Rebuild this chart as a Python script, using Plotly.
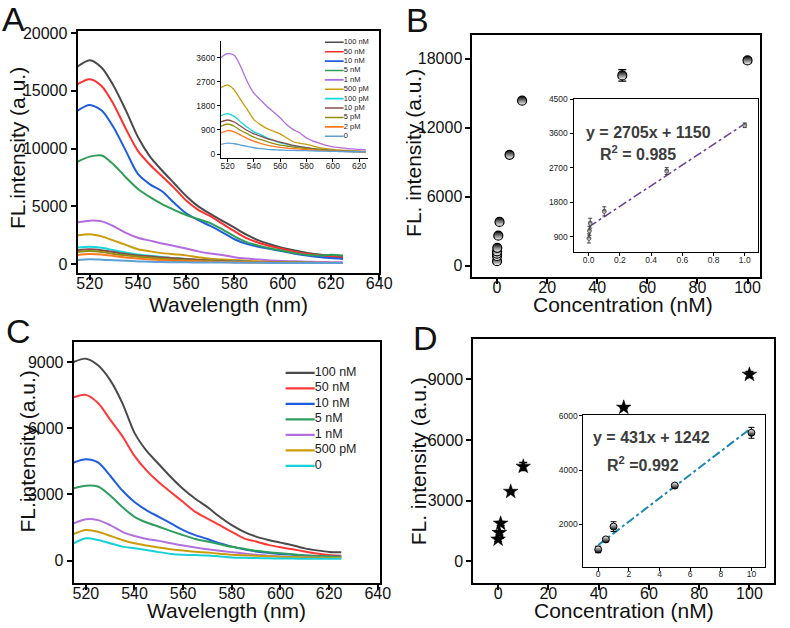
import plotly.graph_objects as go

W, H = 790, 628
FONT = "Arial, Liberation Sans, Helvetica, sans-serif"


def fx(p):
    return p / W


def fy(p):
    return 1 - p / H


# ---------------- data ----------------
WAVELENGTH = [515, 520, 525, 530, 535, 540, 545, 550, 555, 560, 565, 570,
              575, 580, 585, 590, 595, 600, 605, 610, 615, 620, 625]

# Panel A spectra
A_LABELS = ["100 nM", "50 nM", "10 nM", "5 nM", "1 nM", "500 pM",
            "100 pM", "10 pM", "5 pM", "2 pM", "0"]
A_COLORS = ["#4a4a4a", "#ff3030", "#1f5de0", "#2e9e55", "#b46be0", "#cc9b0a",
            "#12d8e0", "#8c4b4b", "#8f8f10", "#ff7a22", "#5e9fd6"]
A_100NM = [17100, 17650, 17000, 15400, 13300, 11000, 9300, 8100, 7000, 5900, 5000, 4350,
           3750, 3150, 2550, 2050, 1700, 1400, 1180, 970, 830, 710, 600]
A_50NM = [15570, 16000, 15400, 13800, 11700, 9800, 8600, 7600, 6600, 5500, 4700, 4150,
          3500, 2850, 2250, 1850, 1550, 1300, 1080, 900, 770, 650, 550]
A_10NM = [13290, 13770, 13300, 11800, 9800, 7800, 6900, 6300, 5300, 4400, 3800, 3300,
          2750, 2150, 1750, 1500, 1300, 1100, 900, 750, 620, 520, 450]
A_5NM = [8860, 9300, 9400, 8600, 7500, 6500, 5800, 5200, 4700, 4250, 3900, 3550,
         3000, 2400, 1900, 1600, 1350, 1150, 950, 800, 750, 800, 750]
A_1NM = [3620, 3760, 3700, 3270, 2710, 2280, 2030, 1780, 1570, 1350, 1100, 915,
         790, 600, 480, 400, 320, 270, 240, 210, 190, 170, 160]
A_500PM = [2490, 2590, 2400, 2030, 1660, 1290, 1100, 950, 850, 755, 600, 460,
           400, 360, 300, 235, 200, 175, 150, 135, 120, 110, 100]
A_100PM = [1435, 1510, 1410, 1200, 1000, 830, 730, 605, 510, 420, 360, 300,
           270, 235, 200, 175, 150, 135, 120, 110, 95, 85, 85]
A_10PM = [1200, 1275, 1200, 1040, 880, 755, 670, 580, 510, 445, 385, 320,
          280, 235, 200, 175, 150, 135, 120, 110, 100, 100, 85]
A_5PM = [1040, 1125, 1040, 880, 755, 630, 545, 460, 385, 335, 300, 260,
         230, 200, 180, 160, 145, 135, 120, 110, 95, 85, 85]
A_2PM = [790, 880, 830, 705, 580, 480, 400, 335, 285, 250, 225, 200,
         180, 160, 145, 135, 120, 110, 105, 100, 90, 85, 85]
A_0 = [360, 410, 385, 335, 285, 235, 200, 175, 160, 150, 140, 135,
       130, 125, 115, 110, 105, 100, 95, 85, 85, 85, 85]
A_SERIES = [A_100NM, A_50NM, A_10NM, A_5NM, A_1NM, A_500PM,
            A_100PM, A_10PM, A_5PM, A_2PM, A_0]
A_INSET_LABELS = ["1 nM", "500 pM", "100 pM", "10 pM", "5 pM", "2 pM", "0"]

# Panel C spectra
C_LABELS = ["100 nM", "50 nM", "10 nM", "5 nM", "1 nM", "500 pM", "0"]
C_COLORS = ["#4a4a4a", "#ff3838", "#1f5de0", "#2e9e5e", "#b070e0", "#cc9b0a", "#17d0d8"]
C_100NM = [9000, 9150, 8850, 8180, 7140, 5790, 4970, 4370, 3780, 3250, 2810, 2430,
           1990, 1610, 1310, 1090, 940, 820, 700, 560, 470, 400, 380]
C_50NM = [7400, 7510, 7140, 6390, 5640, 4750, 4080, 3550, 3100, 2660, 2210, 1910,
          1610, 1310, 1015, 870, 720, 610, 520, 420, 330, 260, 230]
C_10NM = [4450, 4600, 4450, 3850, 3180, 2660, 2280, 1990, 1690, 1390, 1160, 985,
          790, 640, 520, 420, 360, 300, 270, 240, 215, 195, 190]
C_5NM = [3280, 3400, 3360, 2950, 2430, 1990, 1730, 1540, 1340, 1160, 985, 870,
         750, 630, 540, 450, 390, 340, 290, 240, 210, 195, 180]
C_1NM = [1690, 1880, 1840, 1610, 1310, 1120, 985, 900, 790, 690, 600, 520,
         450, 390, 330, 270, 230, 195, 170, 150, 135, 120, 120]
C_500PM = [1210, 1390, 1310, 1130, 940, 790, 690, 600, 520, 460, 410, 370,
           320, 270, 245, 225, 200, 180, 165, 150, 140, 135, 135]
C_0 = [790, 1015, 940, 790, 640, 570, 490, 390, 310, 270, 255, 240,
       195, 150, 135, 120, 110, 105, 100, 90, 90, 90, 90]
C_SERIES = [C_100NM, C_50NM, C_10NM, C_5NM, C_1NM, C_500PM, C_0]

# Panel B calibration
B_CONC = [0, 0.002, 0.005, 0.01, 0.1, 0.5, 1, 5, 10, 50, 100]
B_INTENSITY = [400, 850, 1050, 1250, 1560, 2615, 3815, 9650, 14350, 16550, 17850]
B_ERR = [150, 150, 150, 150, 150, 150, 150, 200, 150, 500, 200]
B_IN_CONC = [0.002, 0.005, 0.01, 0.1, 0.5, 1.0]
B_IN_INTENSITY = [850, 1050, 1250, 1560, 2615, 3815]
B_IN_ERR = [120, 120, 130, 120, 90, 60]
B_FIT_X = [0, 1.0]
B_FIT_Y = [1150, 3855]

# Panel D calibration
D_CONC = [0, 0.5, 1, 5, 10, 50, 100]
D_INTENSITY = [1095, 1420, 1880, 3455, 4695, 7615, 9245]
D_ERR = [100, 100, 100, 60, 200, 60, 150]
D_IN_CONC = [0, 0.5, 1, 5, 10]
D_IN_INTENSITY = [1080, 1450, 1920, 3430, 5370]
D_IN_ERR = [120, 60, 180, 50, 200]
D_FIT_X = [0, 10]
D_FIT_Y = [1242, 5552]

# ---------------- figure ----------------
fig = go.Figure()

# Panel A main
for lab, col, vals in zip(A_LABELS, A_COLORS, A_SERIES):
    fig.add_trace(go.Scatter(x=WAVELENGTH, y=vals, mode="lines", name=lab,
                             line=dict(color=col, width=2, shape="spline", smoothing=0.8),
                             xaxis="x", yaxis="y"))
# Panel A inset
for lab, col, vals in zip(A_LABELS, A_COLORS, A_SERIES):
    if lab in A_INSET_LABELS:
        fig.add_trace(go.Scatter(x=WAVELENGTH, y=vals, mode="lines", name=lab,
                                 line=dict(color=col, width=1.3, shape="spline", smoothing=0.8),
                                 xaxis="x2", yaxis="y2"))


def legend_rows(labels, colors, xa, ya, fsize, lw):
    """Legend drawn on a hidden axis pair: one row per series index."""
    for i, (lab, col) in enumerate(zip(labels, colors)):
        fig.add_trace(go.Scatter(x=[0, 1], y=[i, i], mode="lines",
                                 line=dict(color=col, width=lw), cliponaxis=False,
                                 xaxis=xa, yaxis=ya))
    fig.add_trace(go.Scatter(x=[1] * len(labels), y=list(range(len(labels))), mode="text",
                             text=labels, textposition="middle right",
                             textfont=dict(size=fsize, color="#222", family=FONT),
                             cliponaxis=False, xaxis=xa, yaxis=ya))


legend_rows(A_LABELS, A_COLORS, "x3", "y3", 7.5, 1.6)

# Panel B main
fig.add_trace(go.Scatter(x=B_CONC, y=B_INTENSITY, mode="markers",
                         marker=dict(symbol="circle", size=9, color="black",
                                     gradient=dict(type="vertical", color="white"),
                                     line=dict(color="black", width=1.2)),
                         error_y=dict(type="data", array=B_ERR, color="black",
                                      thickness=1.3, width=4),
                         xaxis="x4", yaxis="y4"))
# Panel B inset
fig.add_trace(go.Scatter(x=B_FIT_X, y=B_FIT_Y, mode="lines",
                         line=dict(color="#6a3d9a", width=1.5, dash="dashdot"),
                         xaxis="x5", yaxis="y5"))
fig.add_trace(go.Scatter(x=B_IN_CONC, y=B_IN_INTENSITY, mode="markers",
                         marker=dict(symbol="circle", size=4, color="#444",
                                     gradient=dict(type="vertical", color="white"),
                                     line=dict(color="#444", width=0.8)),
                         error_y=dict(type="data", array=B_IN_ERR, color="#444",
                                      thickness=1, width=2),
                         xaxis="x5", yaxis="y5"))

# Panel C main
for lab, col, vals in zip(C_LABELS, C_COLORS, C_SERIES):
    fig.add_trace(go.Scatter(x=WAVELENGTH, y=vals, mode="lines", name=lab,
                             line=dict(color=col, width=2, shape="spline", smoothing=0.8),
                             xaxis="x6", yaxis="y6"))
legend_rows(C_LABELS, C_COLORS, "x7", "y7", 12.5, 2.2)

# Panel D main
fig.add_trace(go.Scatter(x=D_CONC, y=D_INTENSITY, mode="markers",
                         marker=dict(symbol="star", size=11, color="black",
                                     line=dict(color="black", width=0.5)),
                         error_y=dict(type="data", array=D_ERR, color="black",
                                      thickness=1.3, width=4),
                         xaxis="x8", yaxis="y8"))
# Panel D inset
fig.add_trace(go.Scatter(x=D_FIT_X, y=D_FIT_Y, mode="lines",
                         line=dict(color="#1e88b4", width=2, dash="dashdot"),
                         xaxis="x9", yaxis="y9"))
fig.add_trace(go.Scatter(x=D_IN_CONC, y=D_IN_INTENSITY, mode="markers",
                         marker=dict(symbol="circle", size=7, color="white",
                                     gradient=dict(type="vertical", color="black"),
                                     line=dict(color="black", width=1)),
                         error_y=dict(type="data", array=D_IN_ERR, color="black",
                                      thickness=1, width=3),
                         xaxis="x9", yaxis="y9"))


def main_axis(dom, rng, dtick, is_x):
    d = dict(domain=dom, range=rng, showline=True, linecolor="black", linewidth=2,
             mirror=True, ticks="outside", ticklen=5, tickwidth=2, tickcolor="black",
             tickfont=dict(size=16, color="#111", family=FONT), showgrid=False,
             zeroline=False, dtick=dtick, tick0=0, tickformat="d")
    if is_x:
        d["ticklabelstandoff"] = -10
    return d


def inset_axis(dom, rng, tickvals, is_x, mirror=True, fmt="d", size=8.5):
    d = dict(domain=dom, range=rng, showline=True, linecolor="black", linewidth=1.3,
             mirror=mirror, ticks="outside", ticklen=3, tickwidth=1, tickcolor="black",
             tickvals=tickvals, tickfont=dict(size=size, color="#222", family=FONT),
             showgrid=False, zeroline=False, tickformat=fmt)
    if is_x:
        d["ticklabelstandoff"] = -4
    return d


hidden = dict(visible=False, showgrid=False, zeroline=False)

layout = dict(
    width=W, height=H, margin=dict(l=0, r=0, t=0, b=0),
    paper_bgcolor="white", plot_bgcolor="rgba(0,0,0,0)", showlegend=False,
    font=dict(family=FONT, color="#111"),
    # Panel A
    xaxis=main_axis([fx(78), fx(385)], [515, 640], 20, True),
    yaxis=main_axis([fy(270), fy(25)], [-770, 20200], 5000, False),
    xaxis2=inset_axis([fx(224), fx(374)], [515, 627], [520, 540, 560, 580, 600, 620],
                      True, mirror=False),
    yaxis2=inset_axis([fy(154), fy(35)], [-160, 4250], [0, 900, 1800, 2700, 3600],
                      False, mirror=False),
    xaxis3=dict(domain=[fx(329.5), fx(349)], range=[0, 1], anchor="y3", **hidden),
    yaxis3=dict(domain=[fy(136.45), fy(31.95)], range=[10.5, -0.5], anchor="x3", **hidden),
    # Panel B
    xaxis4=main_axis([fx(480), fx(773)], [-9.8, 105.1], 20, True),
    yaxis4=main_axis([fy(274), fy(29)], [-970, 20090], 6000, False),
    xaxis5=inset_axis([fx(583), fx(771)], [-0.096, 1.087], [0, 0.2, 0.4, 0.6, 0.8, 1.0],
                      True, fmt=".1f"),
    yaxis5=inset_axis([fy(249), fy(94)], [489, 4505], [900, 1800, 2700, 3600, 4500], False),
    # Panel C
    xaxis6=main_axis([fx(74), fx(386)], [515, 641], 20, True),
    yaxis6=main_axis([fy(583), fy(340)], [-985, 9895], 3000, False),
    xaxis7=dict(domain=[fx(289.5), fx(319.5)], range=[0, 1], anchor="y7", **hidden),
    yaxis7=dict(domain=[fy(472.8), fy(363.2)], range=[6.5, -0.5], anchor="x7", **hidden),
    # Panel D
    xaxis8=main_axis([fx(481), fx(787)], [-9.8, 109.8], 20, True),
    yaxis8=main_axis([fy(583), fy(337)], [-1040, 10990], 3000, False),
    xaxis9=inset_axis([fx(593), fx(778)], [-0.96, 10.9], [0, 2, 4, 6, 8, 10], True),
    yaxis9=inset_axis([fy(567), fy(414)], [447, 6010], [2000, 4000, 6000], False),
)
for k in (1, 2, 4, 5, 6, 8, 9):
    xs = "" if k == 1 else str(k)
    layout["xaxis" + xs]["anchor"] = "y" + xs
    layout["yaxis" + xs]["anchor"] = "x" + xs

fig.update_layout(**layout)


def txt(text, cx, cy, size, color="#111", angle=0):
    return dict(text=text, x=fx(cx), y=fy(cy), xref="paper", yref="paper",
                xanchor="center", yanchor="middle", showarrow=False, textangle=angle,
                font=dict(size=size, color=color, family=FONT))


ann = [
    txt("A", 12.5, 13, 34), txt("B", 424, 14, 34),
    txt("C", 17.5, 329, 34), txt("D", 432.5, 335.5, 34),
    # axis titles
    txt("Wavelength (nm)", 232, 302, 21), txt("Concentration (nM)", 633.5, 302, 21),
    txt("Wavelength (nm)", 230, 611, 21), txt("Concentration (nM)", 634, 611, 21),
    txt("FL.intensity (a.u.)", 17, 144, 21, angle=-90),
    txt("FL. intensity (a.u.)", 420, 149, 21, angle=-90),
    txt("FL.intensity (a.u.)", 27, 451, 21, angle=-90),
    txt("FL. intensity (a.u.)", 425, 460, 21, angle=-90),
    # fit equations
    txt("<b>y = 2705x + 1150</b>", 659, 128, 16, "#3c3c3c"),
    txt("<b>R<sup>2</sup> = 0.985</b>", 649, 149, 16, "#3c3c3c"),
    txt("<b>y = 431x + 1242</b>", 662, 436, 16, "#3c3c3c"),
    txt("<b>R<sup>2</sup> =0.992</b>", 654, 463, 16, "#3c3c3c"),
]
fig.update_layout(annotations=ann)

fig.write_html("out.html", config={"displayModeBar": False},
               post_script="document.body.style.margin='0';")
